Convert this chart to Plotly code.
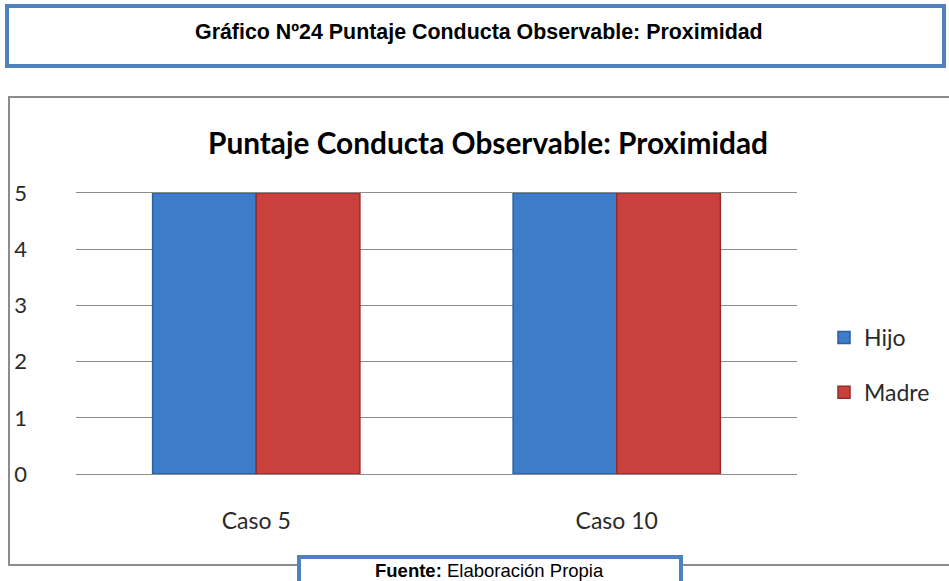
import plotly.graph_objects as go

categories = ["Caso 5", "Caso 10"]
hijo = [5, 5]
madre = [5, 5]
y_ticks = [0, 1, 2, 3, 4, 5]

W, H = 949, 581
L, R, T, B = 76, 797, 193, 474  # plot area in pixels

def px(x):
    return (x - L) / (R - L)

def py(y):
    return (B - y) / (B - T)

FONT = "Lato, Open Sans"

fig = go.Figure()
fig.add_trace(go.Bar(name="Hijo", x=categories, y=hijo,
                     marker=dict(color="#3C7CC9", line=dict(color="#2C5F9E", width=1.5)),
                     legendgroup="a"))
fig.add_trace(go.Bar(name="Madre", x=categories, y=madre,
                     marker=dict(color="#C9403D", line=dict(color="#922D2B", width=1.5)),
                     legendgroup="b"))

shapes = [
    # outer chart frame (gray)
    dict(type="rect", xref="paper", yref="paper", x0=px(9), x1=px(960), y0=py(97), y1=py(565),
         line=dict(color="#8C8C8C", width=2), fillcolor="rgba(0,0,0,0)", layer="below"),
    # top title box (blue)
    dict(type="rect", xref="paper", yref="paper", x0=px(7), x1=px(944), y0=py(6), y1=py(66),
         line=dict(color="#4F81BD", width=4), fillcolor="white"),
    # source box (blue)
    dict(type="rect", xref="paper", yref="paper", x0=px(299), x1=px(681), y0=py(557), y1=py(600),
         line=dict(color="#4F81BD", width=4), fillcolor="white"),
]

annotations = [
    dict(text="<b>Gráfico Nº24 Puntaje Conducta Observable: Proximidad</b>",
         xref="paper", yref="paper", x=px(479), y=py(32), showarrow=False,
         font=dict(family="Liberation Sans, Arial", size=21.4, color="black"),
         xanchor="center", yanchor="middle"),
    dict(text="<b>Puntaje Conducta Observable: Proximidad</b>",
         xref="paper", yref="paper", x=px(488), y=py(143), showarrow=False,
         font=dict(family=FONT, size=29.8, color="black"),
         xanchor="center", yanchor="middle"),
    dict(text="<b>Fuente:</b> Elaboración Propia",
         xref="paper", yref="paper", x=px(489), y=py(570), showarrow=False,
         font=dict(family="Liberation Sans, Arial", size=18.5, color="black"),
         xanchor="center", yanchor="middle"),
]

fig.update_layout(
    width=W, height=H,
    margin=dict(l=L, r=W - R, t=T, b=H - B, pad=0),
    paper_bgcolor="white", plot_bgcolor="white",
    barmode="group", bargap=0.425, bargroupgap=0,
    shapes=shapes, annotations=annotations,
    showlegend=True,
    legend=dict(x=px(824), y=py(316), xanchor="left", yanchor="top",
                font=dict(family=FONT, size=23, color="#2A2A2A"),
                tracegroupgap=22, bgcolor="rgba(0,0,0,0)"),
    font=dict(family=FONT, color="#2A2A2A"),
)
fig.update_yaxes(range=[0, 5], tickvals=y_ticks, showgrid=True, gridcolor="#8C8C8C",
                 gridwidth=1, zeroline=False, showline=False, ticks="",
                 tickfont=dict(family=FONT, size=22, color="#2A2A2A"),
                 ticklabelstandoff=48)
fig.update_xaxes(showline=True, mirror=True, linecolor="#8C8C8C", linewidth=1, ticks="",
                 tickfont=dict(family=FONT, size=23, color="#2A2A2A"),
                 ticklabelstandoff=26)

fig.write_html("out.html", config={"displayModeBar": False},
               post_script="document.body.style.margin='0px';")
